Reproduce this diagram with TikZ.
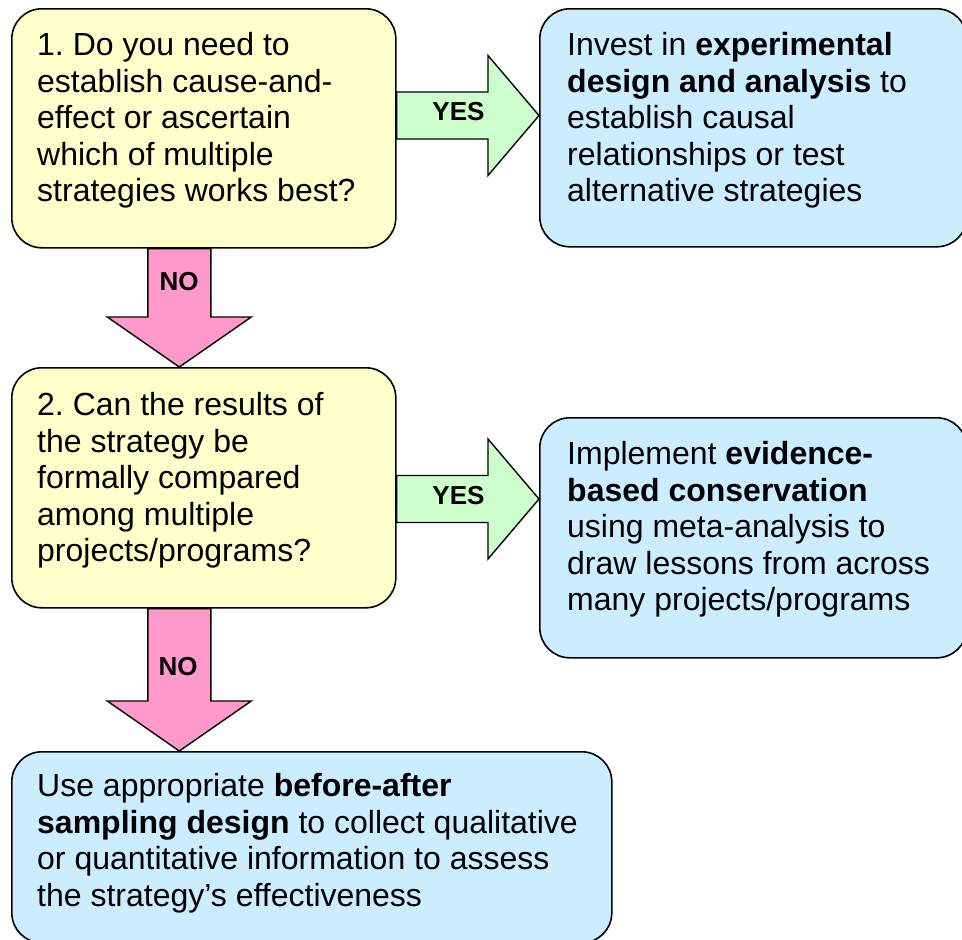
\documentclass[tikz,border=0pt]{standalone}
\usepackage{fontspec}
\setmainfont{Liberation Sans}
\usetikzlibrary{calc}
\frenchspacing
\definecolor{qyellow}{HTML}{FFFFCC}
\definecolor{ablue}{HTML}{CCECFF}
\definecolor{yesgreen}{HTML}{CCFFCC}
\definecolor{nopink}{HTML}{FF99CC}
\tikzset{
  boxbase/.style={draw=black, line width=1.6pt, rounded corners=30pt, inner sep=0pt, anchor=north west},
  qbox/.style={boxbase, fill=qyellow},
  abox/.style={boxbase, fill=ablue},
  txt/.style={inner sep=0pt, anchor=north west, align=left, font=\fontsize{32}{36.5}\selectfont},
  yesarrow/.style={draw=black, line width=1.4pt, fill=yesgreen, line join=miter},
  noarrow/.style={draw=black, line width=1.4pt, fill=nopink, line join=miter},
  lbl/.style={inner sep=0pt, anchor=base, font=\fontsize{26}{30}\selectfont\bfseries},
}
\newcommand\sr{\rule{0pt}{26pt}}
% horizontal block arrow: tail, tip, style
\newcommand\harrowblk[3]{%
  \draw[#3] let \p1=(#1), \p2=(#2) in
    (\x1,\y1+23.5) -- (\x2-51,\y1+23.5) -- (\x2-51,\y1+60) -- (\x2,\y1)
    -- (\x2-51,\y1-60) -- (\x2-51,\y1-23.5) -- (\x1,\y1-23.5) -- cycle;}
% vertical block arrow: tail, tip, style
\newcommand\varrowblk[3]{%
  \draw[#3] let \p1=(#1), \p2=(#2) in
    (\x1-31.5,\y1) -- (\x1-31.5,\y2+50) -- (\x1-72,\y2+50) -- (\x1,\y2)
    -- (\x1+72,\y2+50) -- (\x1+31.5,\y2+50) -- (\x1+31.5,\y1) -- cycle;}
\begin{document}
\begin{tikzpicture}[x=1pt,y=-1pt]
\useasboundingbox (0,0) rectangle (962,940);
% boxes
\node[qbox, minimum width=384pt, minimum height=239pt] (q1) at (11,8) {};
\node[abox, minimum width=427pt, minimum height=238pt] (a1) at (539,8) {};
\node[qbox, minimum width=384pt, minimum height=240pt] (q2) at (11,367) {};
\node[abox, minimum width=427pt, minimum height=240pt] (a2) at (539,417) {};
\node[abox, minimum width=600pt, minimum height=191pt] (a3) at (11,751) {};
% texts
\node[txt] (q1t) at (37,29.7) {\sr 1. Do you need to\\establish cause-and-\\effect or ascertain\\which of multiple\\strategies works best?};
\node[txt] (a1t) at (567,29.7) {\sr Invest in \textbf{experimental}\\\textbf{design and analysis} to\\establish causal\\relationships or test\\alternative strategies};
\node[txt] (q2t) at (37,389.7) {\sr 2. Can the results of\\the strategy be\\formally compared\\among multiple\\projects/programs?};
\node[txt] (a2t) at (567,438.7) {\sr Implement \textbf{evidence-}\\\textbf{based conservation}\\using meta-analysis to\\draw lessons from across\\many projects/programs};
\node[txt] (a3t) at (37,770.7) {\sr Use appropriate \textbf{before-after}\\\textbf{sampling design} to collect qualitative\\or quantitative information to assess\\the strategy’s effectiveness};
% connector end points
\path (q1.north east) ++(0,107.5) coordinate (y1t);
\coordinate (y1h) at (a1.west |- y1t);
\path (q2.north east) ++(0,132) coordinate (y2t);
\coordinate (y2h) at (a2.west |- y2t);
\path (q1.south) ++(-24.5,0) coordinate (n1t);
\coordinate (n1h) at (q2.north -| n1t);
\path (q2.south) ++(-24.5,0) coordinate (n2t);
\coordinate (n2h) at (a3.north -| n2t);
% block arrows
\harrowblk{y1t}{y1h}{yesarrow}
\harrowblk{y2t}{y2h}{yesarrow}
\varrowblk{n1t}{n1h}{noarrow}
\varrowblk{n2t}{n2h}{noarrow}
% labels
\node[lbl] (yes1) at (458.5,120.7) {YES};
\node[lbl] (yes2) at (458.5,504) {YES};
\node[lbl] (no1) at (179,290.7) {NO};
\node[lbl] (no2) at (178,675) {NO};
\end{tikzpicture}
\end{document}
